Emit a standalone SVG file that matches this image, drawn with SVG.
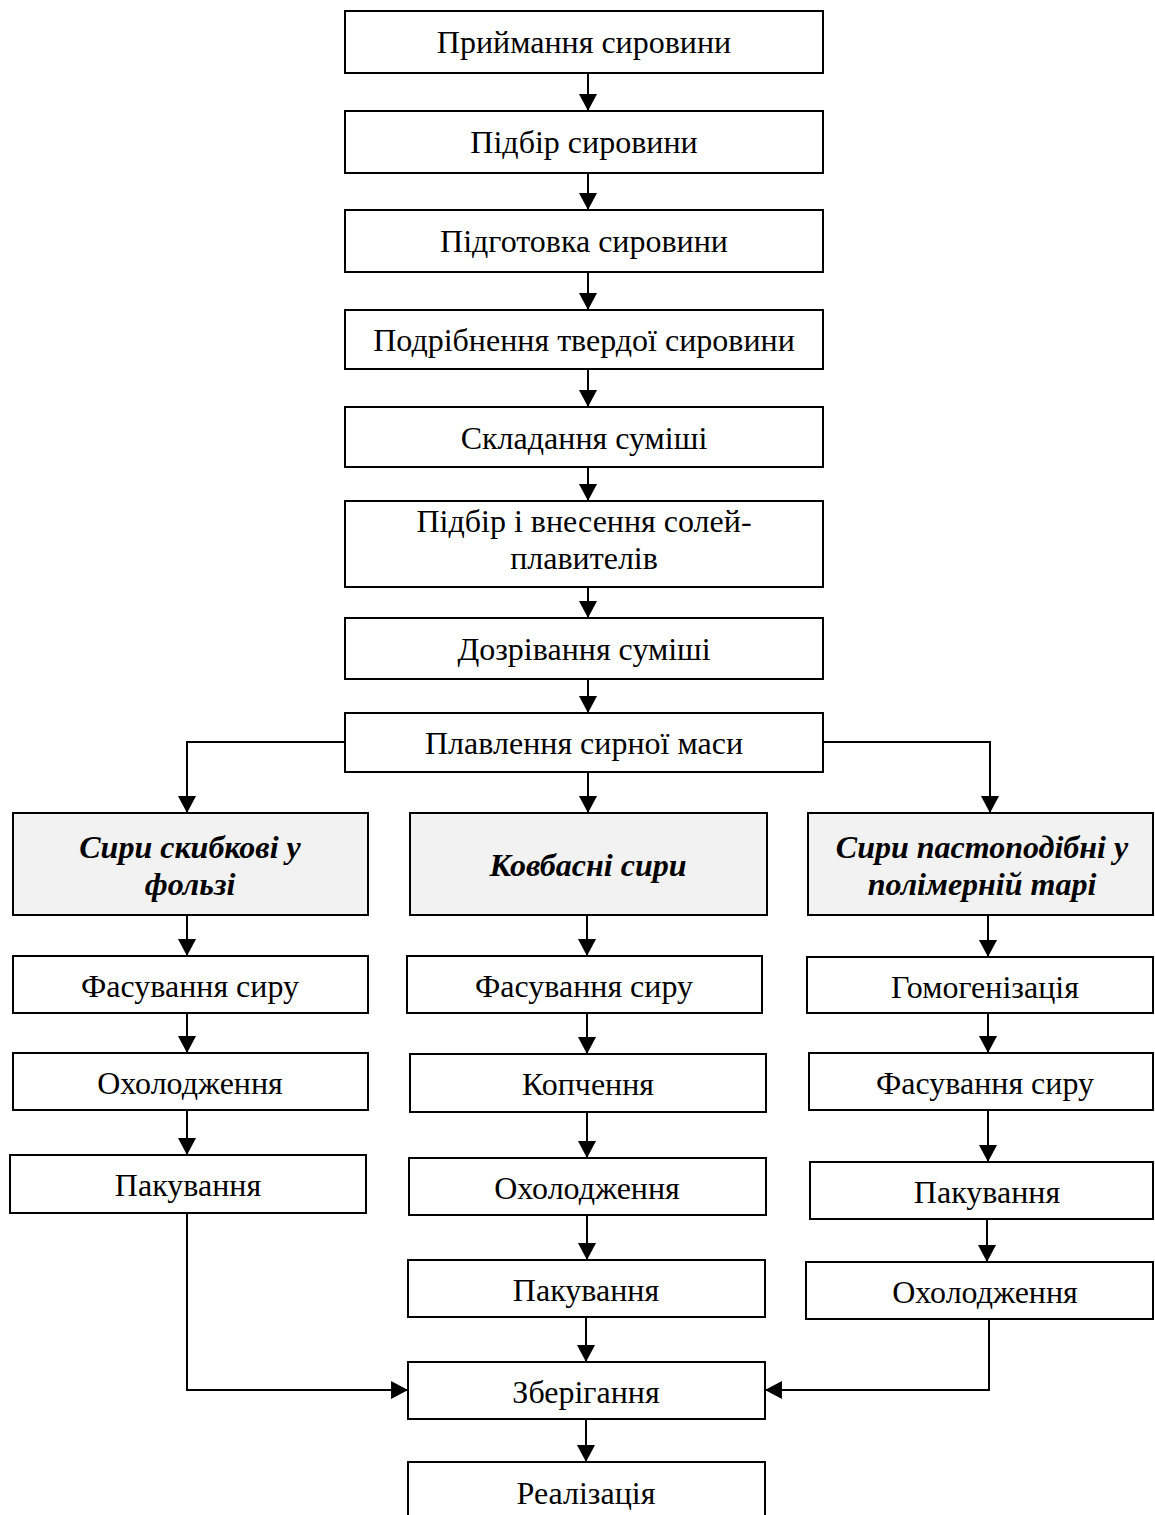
<svg xmlns="http://www.w3.org/2000/svg" width="1155" height="1515" viewBox="0 0 1155 1515">
<style>
.b{fill:#fff;stroke:#000;stroke-width:2}
.c{fill:#f2f2f2;stroke:#000;stroke-width:2}
.t{font-family:"Liberation Serif","Times New Roman",serif;font-size:32px;text-anchor:middle;fill:#000}
.i{font-family:"Liberation Serif","Times New Roman",serif;font-size:32px;font-style:italic;font-weight:bold;text-anchor:middle;fill:#000}
.l{fill:none;stroke:#000;stroke-width:2;marker-end:url(#a)}
</style>
<defs>
<marker id="a" markerUnits="userSpaceOnUse" markerWidth="18" markerHeight="18" refX="16" refY="8.5" orient="auto" viewBox="0 0 17 17">
<path d="M0,0 L16,8.5 L0,17 z" fill="#000"/>
</marker>
</defs>
<rect width="1155" height="1515" fill="#fff"/>
<g id="connectors">
<line class="l" x1="588" y1="73" x2="588" y2="111"/>
<line class="l" x1="588" y1="173" x2="588" y2="210"/>
<line class="l" x1="588" y1="272" x2="588" y2="310"/>
<line class="l" x1="588" y1="369" x2="588" y2="407"/>
<line class="l" x1="588" y1="467" x2="588" y2="501"/>
<line class="l" x1="588" y1="587" x2="588" y2="618"/>
<line class="l" x1="588" y1="679" x2="588" y2="713"/>
<polyline class="l" points="345,742 187,742 187,813"/>
<line class="l" x1="588" y1="772" x2="588" y2="813"/>
<polyline class="l" points="823,742 990,742 990,813"/>
<line class="l" x1="187" y1="915" x2="187" y2="956"/>
<line class="l" x1="187" y1="1013" x2="187" y2="1053"/>
<line class="l" x1="187" y1="1110" x2="187" y2="1155"/>
<polyline class="l" points="187,1213 187,1390 408,1390"/>
<line class="l" x1="587" y1="915" x2="587" y2="956"/>
<line class="l" x1="587" y1="1013" x2="587" y2="1054"/>
<line class="l" x1="587" y1="1112" x2="587" y2="1158"/>
<line class="l" x1="587" y1="1215" x2="587" y2="1260"/>
<line class="l" x1="586" y1="1317" x2="586" y2="1362"/>
<line class="l" x1="586" y1="1419" x2="586" y2="1462"/>
<line class="l" x1="988" y1="915" x2="988" y2="957"/>
<line class="l" x1="988" y1="1013" x2="988" y2="1053"/>
<line class="l" x1="988" y1="1110" x2="988" y2="1162"/>
<line class="l" x1="987" y1="1219" x2="987" y2="1262"/>
<polyline class="l" points="989,1319 989,1390 765,1390"/>
</g>
<g id="n1"><rect class="b" x="345" y="11" width="478" height="62"/><text class="t" x="584" y="53">Приймання сировини</text></g>
<g id="n2"><rect class="b" x="345" y="111" width="478" height="62"/><text class="t" x="584" y="153">Підбір сировини</text></g>
<g id="n3"><rect class="b" x="345" y="210" width="478" height="62"/><text class="t" x="584" y="252">Підготовка сировини</text></g>
<g id="n4"><rect class="b" x="345" y="310" width="478" height="59"/><text class="t" x="584" y="351">Подрібнення твердої сировини</text></g>
<g id="n5"><rect class="b" x="345" y="407" width="478" height="60"/><text class="t" x="584" y="449">Складання суміші</text></g>
<g id="n6"><rect class="b" x="345" y="501" width="478" height="86"/><text class="t" x="584" y="532">Підбір і внесення солей-</text><text class="t" x="584" y="569">плавителів</text></g>
<g id="n7"><rect class="b" x="345" y="618" width="478" height="61"/><text class="t" x="584" y="660">Дозрівання суміші</text></g>
<g id="n8"><rect class="b" x="345" y="713" width="478" height="59"/><text class="t" x="584" y="754">Плавлення сирної маси</text></g>
<g id="c1"><rect class="c" x="13" y="813" width="355" height="102"/><text class="i" x="190" y="858">Сири скибкові у</text><text class="i" x="190" y="895">фользі</text></g>
<g id="c2"><rect class="c" x="410" y="813" width="357" height="102"/><text class="i" x="588" y="876">Ковбасні сири</text></g>
<g id="c3"><rect class="c" x="808" y="813" width="345" height="102"/><text class="i" x="982" y="858">Сири пастоподібні у</text><text class="i" x="982" y="895">полімерній тарі</text></g>
<g id="l1"><rect class="b" x="13" y="956" width="355" height="57"/><text class="t" x="190" y="997">Фасування сиру</text></g>
<g id="l2"><rect class="b" x="13" y="1053" width="355" height="57"/><text class="t" x="190" y="1094">Охолодження</text></g>
<g id="l3"><rect class="b" x="10" y="1155" width="356" height="58"/><text class="t" x="188" y="1196">Пакування</text></g>
<g id="m1"><rect class="b" x="407" y="956" width="355" height="57"/><text class="t" x="584" y="997">Фасування сиру</text></g>
<g id="m2"><rect class="b" x="410" y="1054" width="356" height="58"/><text class="t" x="588" y="1095">Копчення</text></g>
<g id="m3"><rect class="b" x="409" y="1158" width="357" height="57"/><text class="t" x="587" y="1199">Охолодження</text></g>
<g id="m4"><rect class="b" x="408" y="1260" width="357" height="57"/><text class="t" x="586" y="1301">Пакування</text></g>
<g id="m5"><rect class="b" x="408" y="1362" width="357" height="57"/><text class="t" x="586" y="1403">Зберігання</text></g>
<g id="m6"><rect class="b" x="408" y="1462" width="357" height="60"/><text class="t" x="586" y="1504">Реалізація</text></g>
<g id="r1"><rect class="b" x="807" y="957" width="346" height="56"/><text class="t" x="985" y="998">Гомогенізація</text></g>
<g id="r2"><rect class="b" x="809" y="1053" width="344" height="57"/><text class="t" x="985" y="1094">Фасування сиру</text></g>
<g id="r3"><rect class="b" x="810" y="1162" width="343" height="57"/><text class="t" x="987" y="1203">Пакування</text></g>
<g id="r4"><rect class="b" x="806" y="1262" width="347" height="57"/><text class="t" x="985" y="1303">Охолодження</text></g>
</svg>
